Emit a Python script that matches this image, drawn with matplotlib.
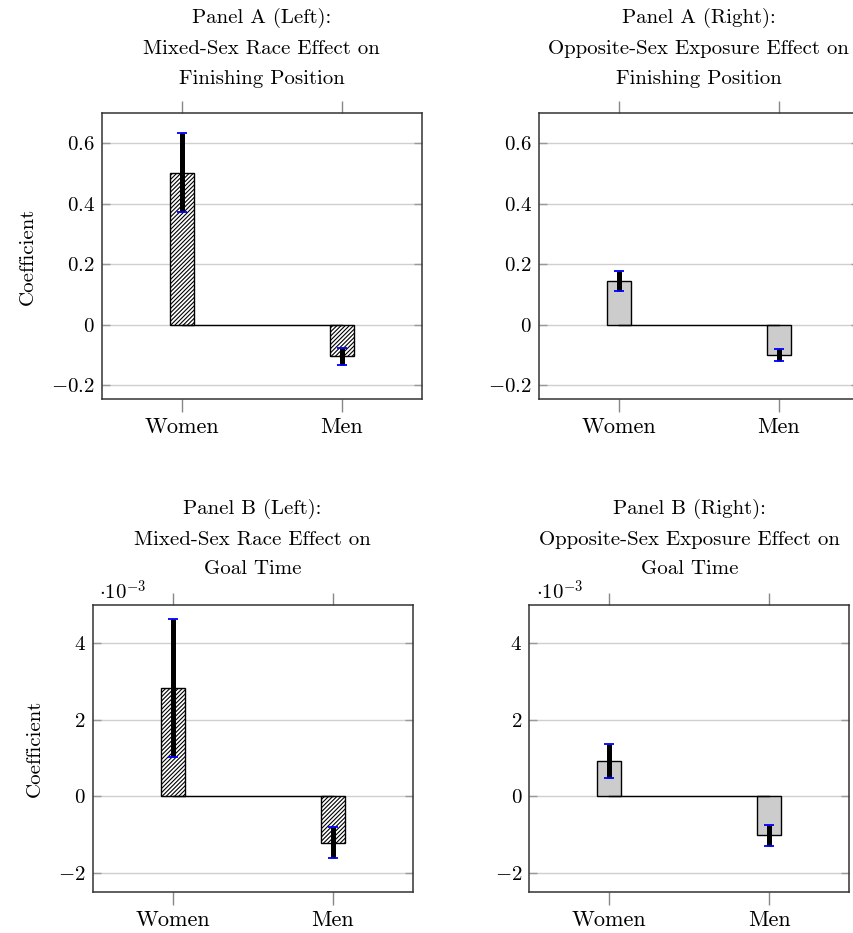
import numpy as np
import matplotlib
matplotlib.use("Agg")
import matplotlib.pyplot as plt
from matplotlib.ticker import FuncFormatter

plt.rcParams['font.family'] = ['cmr10', 'DejaVu Serif']
plt.rcParams['mathtext.fontset'] = 'cm'
plt.rcParams['axes.formatter.use_mathtext'] = True
plt.rcParams['hatch.linewidth'] = 0.8

groups = ["Women", "Men"]

# Panel A: finishing position
a_left_coef = [0.503, -0.104]
a_left_err = [0.130, 0.028]
a_right_coef = [0.146, -0.099]
a_right_err = [0.033, 0.020]

# Panel B: goal time
b_left_coef = [2.83e-3, -1.21e-3]
b_left_err = [1.80e-3, 0.40e-3]
b_right_coef = [0.93e-3, -1.02e-3]
b_right_err = [0.44e-3, 0.28e-3]

titles = ["Panel A (Left):\nMixed-Sex Race Effect on\nFinishing Position",
          "Panel A (Right):\nOpposite-Sex Exposure Effect on\nFinishing Position",
          "Panel B (Left):\nMixed-Sex Race Effect on\nGoal Time",
          "Panel B (Right):\nOpposite-Sex Exposure Effect on\nGoal Time"]

FS = 15


def fmt_a(v, pos):
    if abs(v) < 1e-9:
        return "$0$"
    return "$%.1f$" % v


def fmt_b(v, pos):
    v = v / 1e-3
    if abs(v) < 1e-9:
        return "$0$"
    return "$%d$" % round(v)


def panel(ax, coef, err, hatched, title, scale, ylabel):
    x = np.arange(len(groups))
    if hatched:
        ax.bar(x, coef, width=0.15, color="white", edgecolor="black",
               hatch="////////", linewidth=1.0, zorder=3)
    else:
        ax.bar(x, coef, width=0.15, color="#cccccc", edgecolor="black",
               linewidth=1.0, zorder=3)
    ax.plot([x[0], x[-1]], [0, 0], color="black", lw=1.0, zorder=3)
    lo = np.array(coef) - np.array(err)
    hi = np.array(coef) + np.array(err)
    ax.vlines(x, lo, hi, color="black", lw=3.6, zorder=4)
    ax.plot(x, lo, ls="none", marker="_", ms=6.5, mew=1.3, color="blue", zorder=5)
    ax.plot(x, hi, ls="none", marker="_", ms=6.5, mew=1.3, color="blue", zorder=5)

    ax.set_xlim(-0.5, 1.5)
    ax.set_xticks(x)
    ax.set_xticklabels(groups, fontsize=16)
    ax.tick_params(axis="x", direction="out", top=True, length=9, width=1.0,
                   color="#888888", pad=4)
    ax.tick_params(axis="y", direction="in", left=True, right=True, length=6,
                   width=1.0, color="#999999", labelsize=FS, pad=5)
    ax.yaxis.grid(True, color="#cfcfcf", lw=1.0, zorder=0)
    ax.set_axisbelow(True)
    for s in ax.spines.values():
        s.set_color("#333333")
        s.set_linewidth(1.1)

    if scale == "a":
        ax.set_ylim(-0.245, 0.70)
        ax.set_yticks([-0.2, 0, 0.2, 0.4, 0.6])
        ax.yaxis.set_major_formatter(FuncFormatter(fmt_a))
    else:
        ax.set_ylim(-2.5e-3, 5.0e-3)
        ax.set_yticks([-2e-3, 0, 2e-3, 4e-3])
        ax.yaxis.set_major_formatter(FuncFormatter(fmt_b))
        ax.text(0.02, 1.006, r"$\cdot 10^{-3}$", transform=ax.transAxes,
                fontsize=FS, ha="left", va="bottom")
    ax.set_title(title, fontsize=FS, linespacing=1.85, pad=21 if scale == "a" else 22)
    if ylabel:
        ax.set_ylabel("Coefficient", fontsize=FS, labelpad=10)


fig = plt.figure(figsize=(8.54, 9.33), dpi=100)
w = 0.3747
ax1 = fig.add_axes([0.1191, 0.5723, w, 0.3065])
ax2 = fig.add_axes([0.6308, 0.5723, w, 0.3065])
ax3 = fig.add_axes([0.1085, 0.0439, w, 0.3076])
ax4 = fig.add_axes([0.6198, 0.0439, w, 0.3076])

panel(ax1, a_left_coef, a_left_err, True, titles[0], "a", True)
panel(ax2, a_right_coef, a_right_err, False, titles[1], "a", False)
panel(ax3, b_left_coef, b_left_err, True, titles[2], "b", True)
panel(ax4, b_right_coef, b_right_err, False, titles[3], "b", False)

fig.savefig("out.png", dpi=100)
